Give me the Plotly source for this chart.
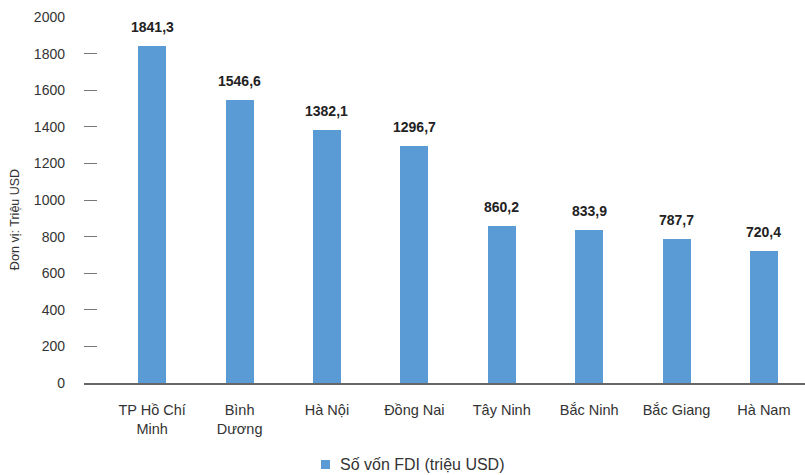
import plotly.graph_objects as go

# FDI capital by province (million USD)
provinces = ["TP Hồ Chí<br>Minh", "Bình<br>Dương", "Hà Nội", "Đồng Nai",
             "Tây Ninh", "Bắc Ninh", "Bắc Giang", "Hà Nam"]
fdi_values = [1841.3, 1546.6, 1382.1, 1296.7, 860.2, 833.9, 787.7, 720.4]
y_ticks = [0, 200, 400, 600, 800, 1000, 1200, 1400, 1600, 1800, 2000]
series_name = "Số vốn FDI (triệu USD)"

labels = [f"{v:.1f}".replace(".", ",") for v in fdi_values]
positions = list(range(len(provinces)))

font_family = "Liberation Sans, Arial, sans-serif"
bar_color = "#5B9BD5"

fig = go.Figure()
fig.add_trace(go.Bar(
    x=positions,
    y=fdi_values,
    name=series_name,
    marker=dict(color=bar_color, line=dict(width=0)),
    width=0.32,
    showlegend=False,
))

# value labels above each bar
annotations = [
    dict(x=xi, y=v, xref="x", yref="y", text=t, showarrow=False,
         yanchor="bottom", yshift=9,
         font=dict(family=font_family, size=14, color="#222222", weight="bold"))
    for xi, v, t in zip(positions, fdi_values, labels)
]

# axis title
annotations.append(dict(
    text="Đơn vị: Triệu USD", textangle=-90, xref="paper", yref="paper",
    x=-0.0957, y=0.445, xanchor="center", yanchor="middle", showarrow=False,
    font=dict(size=12.5, color="#333333"),
))

# legend entry text
annotations.append(dict(
    text=series_name, xref="paper", yref="paper", x=0.3523, y=-0.224,
    xanchor="left", yanchor="middle", showarrow=False,
    font=dict(size=16, color="#333333"),
))

fig.update_layout(
    width=805, height=475,
    margin=dict(l=84, r=0, t=17, b=92),
    paper_bgcolor="white", plot_bgcolor="white",
    font=dict(family=font_family, size=14, color="#333333"),
    showlegend=False,
    bargap=0,
    annotations=annotations,
    shapes=[dict(type="rect", xref="paper", yref="paper",
                 x0=0.3287, x1=0.3412, y0=-0.235, y1=-0.2104,
                 fillcolor=bar_color, line=dict(width=0))],
)

fig.update_xaxes(
    tickmode="array", tickvals=positions, ticktext=provinces,
    range=[-0.78, 7.47], showline=True, linecolor="#666666", linewidth=1.5,
    ticks="", showgrid=False, zeroline=False, automargin=False,
    ticklabelstandoff=13, tickfont=dict(size=14.5, color="#333333"),
)
fig.update_yaxes(
    range=[0, 2000], tickvals=y_ticks, showgrid=False, zeroline=False,
    showline=False, ticks="inside", ticklen=13, tickwidth=1.2, tickcolor="#777777",
    ticklabelstandoff=18, automargin=False, tickfont=dict(size=14, color="#333333"),
)

fig.write_html("out.html")
